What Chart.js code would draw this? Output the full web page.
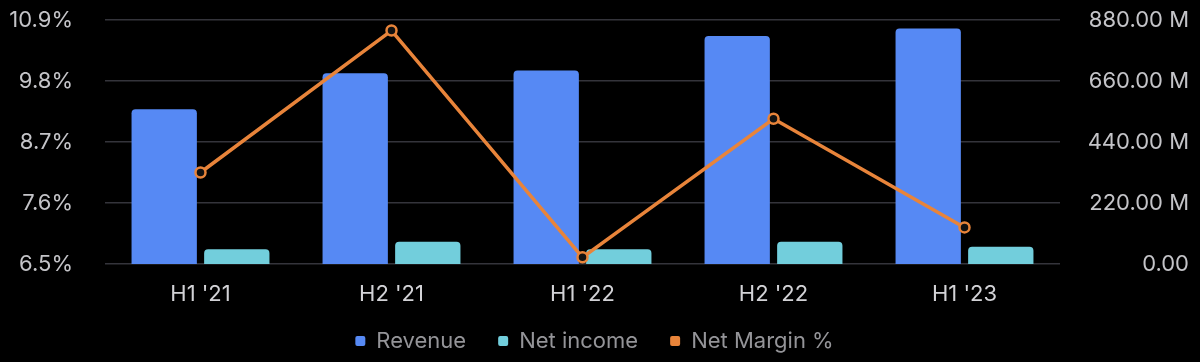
<!DOCTYPE html>
<html>
<head>
<meta charset="utf-8">
<script src="https://cdn.jsdelivr.net/npm/chart.js@4"></script>
<style>
  html, body { margin: 0; padding: 0; background: #000; }
  #wrap { width: 1200px; height: 362px; }
</style>
</head>
<body>
<div id="wrap"><canvas id="c" width="1200" height="362"></canvas></div>
<script>
const categories = ["H1 '21", "H2 '21", "H1 '22", "H2 '22", "H1 '23"];
const revenue = [558, 688, 698, 822, 849];          // millions
const netIncome = [53, 80, 53, 80, 62];             // millions
const netMargin = [8.15, 10.71, 6.62, 9.12, 7.16];  // percent
const marginTicks = [6.5, 7.6, 8.7, 9.8, 10.9];
const moneyTicks = [0, 220, 440, 660, 880];

const FONT = "Inter, 'Noto Sans', sans-serif";

// keep the legend compact in the layout while keeping wide gaps between items
const legendLayout = {
  id: 'legendLayout',
  beforeLayout(chart) {
    const lg = chart.legend;
    if (lg && !lg._patched) {
      const f = lg.fit;
      lg.fit = function () { f.call(this); this.height = 48; };
      lg._patched = true;
    }
  },
  afterLayout(chart) {
    const lg = chart.legend;
    if (lg) { lg.top = 298; lg.bottom = 362; lg.height = 64; }
  }
};

new Chart(document.getElementById('c'), {
  data: {
    labels: categories,
    datasets: [
      { type: 'bar', label: 'Revenue', data: revenue, yAxisID: 'y1',
        backgroundColor: '#5689F4', borderRadius: 4, order: 1 },
      { type: 'bar', label: 'Net income', data: netIncome, yAxisID: 'y1',
        backgroundColor: '#72CEDC', borderRadius: 4, order: 1 },
      { type: 'line', label: 'Net Margin %', data: netMargin, yAxisID: 'y',
        borderColor: '#E8843A', backgroundColor: '#E8843A', borderWidth: 3.5,
        pointRadius: 5, pointBorderWidth: 2.5, pointBackgroundColor: '#111',
        pointBorderColor: '#E8843A', tension: 0, order: 0 }
    ]
  },
  plugins: [legendLayout],
  options: {
    responsive: false,
    animation: false,
    devicePixelRatio: 1,
    layout: { padding: { top: 20, right: 11, left: 0, bottom: 0 } },
    datasets: { bar: { categoryPercentage: 0.76, barPercentage: 0.9 } },
    plugins: {
      tooltip: { enabled: false },
      legend: {
        position: 'bottom',
        labels: {
          color: '#949498',
          font: { family: FONT, size: 22 },
          boxWidth: 10, boxHeight: 10, padding: 32,
          useBorderRadius: true, borderRadius: 2,
          sort: (a, b) => a.datasetIndex - b.datasetIndex,
          generateLabels: (chart) => {
            const items = Chart.defaults.plugins.legend.labels.generateLabels(chart);
            items.forEach(it => {
              const ds = chart.data.datasets[it.datasetIndex];
              it.lineWidth = 0;
              it.fillStyle = ds.type === 'bar' ? ds.backgroundColor : ds.borderColor;
            });
            return items;
          }
        }
      }
    },
    scales: {
      x: {
        grid: { display: false, drawTicks: false },
        border: { display: false },
        ticks: { color: '#d2d2d6', font: { family: FONT, size: 22 }, padding: 17 },
        afterFit: (s) => { s.height = 50; }
      },
      y: {
        position: 'left',
        min: 6.5, max: 10.9,
        afterBuildTicks: (s) => { s.ticks = marginTicks.map(v => ({ value: v })); },
        grid: { color: '#34343b', lineWidth: 1.5, drawTicks: true, tickLength: 32, tickColor: 'rgba(0,0,0,0)' },
        border: { display: false },
        ticks: { color: '#c4c4c8', font: { family: FONT, size: 22 }, padding: 0,
          callback: (v) => v.toFixed(1) + '%' },
        afterFit: (s) => { s.width = 105; }
      },
      y1: {
        position: 'right',
        min: 0, max: 880,
        afterBuildTicks: (s) => { s.ticks = moneyTicks.map(v => ({ value: v })); },
        grid: { display: false, drawTicks: false },
        border: { display: false },
        ticks: { color: '#c4c4c8', font: { family: FONT, size: 22 }, crossAlign: 'far',
          callback: (v) => v === 0 ? '0.00' : v.toFixed(2) + ' M' },
        afterFit: (s) => { s.width = 129; }
      }
    }
  }
});
</script>
</body>
</html>
